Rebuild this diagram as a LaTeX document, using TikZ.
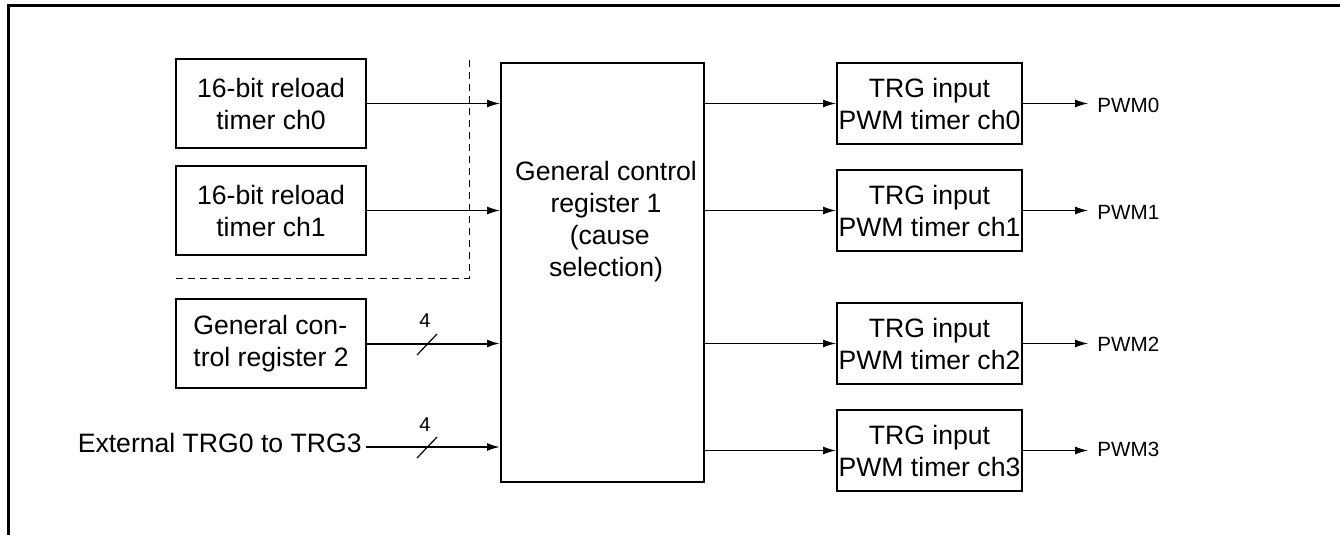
\documentclass[tikz,border=0pt]{standalone}
\usepackage{fontspec}
\setmainfont{Liberation Sans}
\usetikzlibrary{arrows.meta}
\begin{document}
\begin{tikzpicture}[x=0.5pt,y=-0.5pt,
  blk/.style={draw, line width=1pt, inner sep=0pt, font=\fontsize{13.3}{16}\selectfont, align=center},
  lbl/.style={inner sep=0pt, font=\fontsize{13.3}{16}\selectfont},
  small/.style={inner sep=0pt, font=\fontsize{10.3}{12}\selectfont},
  tiny/.style={inner sep=0pt, font=\fontsize{10}{12}\selectfont},
  sig/.style={line width=0.6pt, -{Latex[length=6.5pt,width=4pt]}},
  bus/.style={line width=1pt, -{Latex[length=6.5pt,width=4pt]}},
  dsh/.style={line width=0.5pt, dash pattern=on 3.5pt off 2.5pt}]
\useasboundingbox (0,0) rectangle (1340,535);
% frame
\draw[line width=1.2pt] (8.5,535) -- (8.5,5.5) -- (1340,5.5);
% left blocks
\node[blk, minimum width=95pt, minimum height=44.5pt] (t0) at (271,103.5) {16-bit reload\\timer ch0};
\node[blk, minimum width=95pt, minimum height=44.5pt] (t1) at (271,210.5) {16-bit reload\\timer ch1};
\node[blk, minimum width=95pt, minimum height=44.5pt, align=left] (g2) at (271,343.5) {General con-\\trol register 2};
\node[lbl, anchor=base east] (ext) at (362,452) {External TRG0 to TRG3};
\coordinate (exto) at (366,447);
% dashed boundary
\draw[dsh] (176,278) -- (469,278) -- (469,57);
% central block
\node[draw, line width=1pt, minimum width=101.5pt, minimum height=209.5pt, inner sep=0pt] (g1) at (602.5,272.5) {};
\node[lbl, align=center] (g1t) at (606,222) {General control\\register 1\\\ (cause\\selection)};
% right blocks
\node[blk, minimum width=92.5pt, minimum height=40.5pt] (p0) at (929.5,103.5) {TRG input\\PWM timer ch0};
\node[blk, minimum width=92.5pt, minimum height=40.5pt] (p1) at (929.5,210.5) {TRG input\\PWM timer ch1};
\node[blk, minimum width=92.5pt, minimum height=40.5pt] (p2) at (929.5,343.5) {TRG input\\PWM timer ch2};
\node[blk, minimum width=92.5pt, minimum height=40.5pt] (p3) at (929.5,450.5) {TRG input\\PWM timer ch3};
% outputs
\node[small, anchor=west] (w0) at (1097,105) {PWM0};
\node[small, anchor=west] (w1) at (1097,212) {PWM1};
\node[small, anchor=west] (w2) at (1097,344) {PWM2};
\node[small, anchor=west] (w3) at (1097,449) {PWM3};
% input arrows
\draw[sig] (t0.east) -- (t0.east -| g1.west);
\draw[sig] (t1.east) -- (t1.east -| g1.west);
\draw[bus] (g2.east) -- (g2.east -| g1.west);
\draw[bus] (exto) -- (exto -| g1.west);
% bus slashes and widths
\draw[line width=0.6pt] (417,355) -- (437,334);
\draw[line width=0.6pt] (417,458) -- (437,437);
\node[tiny] (n4a) at (425,321) {4};
\node[tiny] (n4b) at (425,425) {4};
% g1 to PWM blocks
\draw[sig] (g1.east |- p0.west) -- (p0.west);
\draw[sig] (g1.east |- p1.west) -- (p1.west);
\draw[sig] (g1.east |- p2.west) -- (p2.west);
\draw[sig] (g1.east |- p3.west) -- (p3.west);
% PWM outputs
\draw[sig, shorten >=4.5pt] (p0.east) -- (p0.east -| w0.west);
\draw[sig, shorten >=4.5pt] (p1.east) -- (p1.east -| w1.west);
\draw[sig, shorten >=4.5pt] (p2.east) -- (p2.east -| w2.west);
\draw[sig, shorten >=4.5pt] (p3.east) -- (p3.east -| w3.west);
\end{tikzpicture}
\end{document}
